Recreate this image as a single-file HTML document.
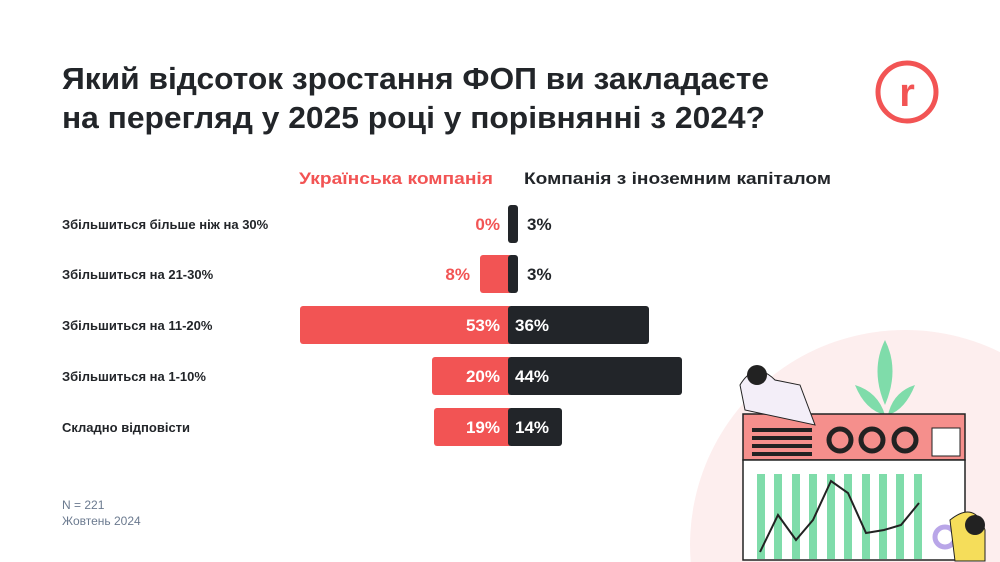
<!DOCTYPE html>
<html><head><meta charset="utf-8"><style>
html,body{margin:0;padding:0;background:#fff;width:1000px;height:562px;overflow:hidden;}
svg{display:block}
text{font-family:"Liberation Sans",sans-serif;}
</style></head><body>
<svg width="1000" height="562" viewBox="0 0 1000 562">
<rect width="1000" height="562" fill="#fff"/>
<path d="M690.7 562 A215 215 0 0 1 1000 352.1 L1000 562 Z" fill="#fdeeee"/>
<text x="62" y="89" font-size="31" font-weight="bold" fill="#222529" textLength="707" lengthAdjust="spacingAndGlyphs">Який відсоток зростання ФОП ви закладаєте</text>
<text x="62" y="128" font-size="31" font-weight="bold" fill="#222529" textLength="703" lengthAdjust="spacingAndGlyphs">на перегляд у 2025 році у порівнянні з 2024?</text>
<circle cx="907" cy="92" r="29" fill="none" stroke="#f25454" stroke-width="5"/>
<text x="907" y="106" font-size="40" font-weight="bold" fill="#f25454" text-anchor="middle">r</text>
<text x="299" y="184" font-size="17" font-weight="bold" fill="#f25454" textLength="194" lengthAdjust="spacingAndGlyphs">Українська компанія</text>
<text x="524" y="184" font-size="17" font-weight="bold" fill="#222529" textLength="307" lengthAdjust="spacingAndGlyphs">Компанія з іноземним капіталом</text>
<g font-size="13" font-weight="bold" fill="#222529">
<text x="62" y="229">Збільшиться більше ніж на 30%</text>
<text x="62" y="279">Збільшиться на 21-30%</text>
<text x="62" y="330">Збільшиться на 11-20%</text>
<text x="62" y="381">Збільшиться на 1-10%</text>
<text x="62" y="432">Складно відповісти</text>
</g>
<g fill="#f25454">
<rect x="480" y="255" width="32" height="38" rx="3"/>
<rect x="300" y="306" width="212" height="38" rx="3"/>
<rect x="432" y="357" width="80" height="38" rx="3"/>
<rect x="434" y="408" width="78" height="38" rx="3"/>
</g>
<g fill="#222529">
<rect x="508" y="205" width="10" height="38" rx="3"/>
<rect x="508" y="255" width="10" height="38" rx="3"/>
<rect x="508" y="306" width="141" height="38" rx="3"/>
<rect x="508" y="357" width="174" height="38" rx="3"/>
<rect x="508" y="408" width="54" height="38" rx="3"/>
</g>
<g font-size="17" font-weight="bold">
<text x="500" y="230" text-anchor="end" fill="#f25454">0%</text>
<text x="470" y="280" text-anchor="end" fill="#f25454">8%</text>
<text x="527" y="230" fill="#222529">3%</text>
<text x="527" y="280" fill="#222529">3%</text>
<text x="500" y="331" text-anchor="end" fill="#fff">53%</text>
<text x="500" y="382" text-anchor="end" fill="#fff">20%</text>
<text x="500" y="433" text-anchor="end" fill="#fff">19%</text>
<text x="515" y="331" fill="#fff">36%</text>
<text x="515" y="382" fill="#fff">44%</text>
<text x="515" y="433" fill="#fff">14%</text>
</g>
<text x="62" y="509" font-size="12" fill="#6b7a8f">N = 221</text>
<text x="62" y="525" font-size="12" fill="#6b7a8f">Жовтень 2024</text>
<path d="M885 340 Q870 370 885 405 Q900 370 885 340Z" fill="#7fdcaa"/>
<path d="M855 385 Q865 410 885 415 Q878 392 855 385Z" fill="#7fdcaa"/>
<path d="M915 385 Q905 410 888 415 Q893 392 915 385Z" fill="#7fdcaa"/>
<rect x="743" y="414" width="222" height="46" fill="#f58f8c" stroke="#222" stroke-width="1.5"/>
<rect x="743" y="460" width="222" height="100" fill="#fff" stroke="#222" stroke-width="1.5"/>
<g fill="#222"><rect x="752" y="428" width="60" height="4"/><rect x="752" y="436" width="60" height="4"/><rect x="752" y="444" width="60" height="4"/><rect x="752" y="452" width="60" height="4"/></g>
<g fill="none" stroke="#222" stroke-width="5"><circle cx="840" cy="440" r="11"/><circle cx="872" cy="440" r="11"/><circle cx="905" cy="440" r="11"/></g>
<rect x="932" y="428" width="28" height="28" fill="#fff" stroke="#222"/>
<g fill="#7fdcaa"><rect x="757" y="474" width="8" height="85"/><rect x="774" y="474" width="8" height="85"/><rect x="792" y="474" width="8" height="85"/><rect x="809" y="474" width="8" height="85"/><rect x="827" y="474" width="8" height="85"/><rect x="844" y="474" width="8" height="85"/><rect x="862" y="474" width="8" height="85"/><rect x="879" y="474" width="8" height="85"/><rect x="896" y="474" width="8" height="85"/><rect x="914" y="474" width="8" height="85"/></g>
<polyline points="760,552 778,515 796,540 813,520 831,481 848,493 866,533 884,530 901,525 919,503" fill="none" stroke="#222" stroke-width="2"/>
<circle cx="945" cy="537" r="10" fill="none" stroke="#b9a6e8" stroke-width="5"/>
<path d="M740 385 Q755 360 775 380 L800 385 L815 425 L745 410Z" fill="#f3eef8" stroke="#222"/>
<circle cx="757" cy="375" r="10" fill="#222"/>
<path d="M950 520 Q975 500 985 530 L985 561 L955 561Z" fill="#f5dd5a" stroke="#222"/>
<circle cx="975" cy="525" r="10" fill="#222"/>
</svg>
</body></html>
